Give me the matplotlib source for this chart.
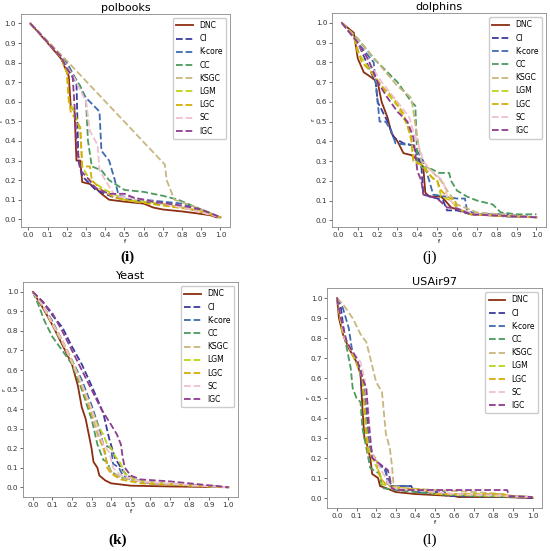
import matplotlib
matplotlib.use("Agg")
import matplotlib.pyplot as plt

methods = ["DNC", "CI", "K-core", "CC", "KSGC", "LGM", "LGC", "SC", "IGC"]
colors = ["#8B2E12", "#3B3B9E", "#3E6BB0", "#4C9A5E", "#C9B67E",
          "#BFD21A", "#D4AE0A", "#F0BFD2", "#8E3C8E"]
ticks = [0.0, 0.1, 0.2, 0.3, 0.4, 0.5, 0.6, 0.7, 0.8, 0.9, 1.0]

# polbooks
polbooks_f = {
    "DNC": [0.01, 0.1, 0.17, 0.21, 0.22, 0.24, 0.25, 0.27, 0.28, 0.32, 0.35, 0.38, 0.42, 0.5, 0.6, 0.65, 0.7, 0.8, 0.88, 0.95, 0.98, 1.0],
    "CI": [0.01, 0.17, 0.22, 0.25, 0.26, 0.28, 0.35, 0.45, 0.6, 0.8, 0.9, 1.0],
    "K-core": [0.01, 0.17, 0.2, 0.3, 0.37, 0.38, 0.42, 0.45, 0.47, 0.6, 0.8, 0.9, 1.0],
    "CC": [0.01, 0.17, 0.19, 0.27, 0.3, 0.31, 0.33, 0.38, 0.42, 0.5, 0.6, 0.7, 0.78, 0.9, 1.0],
    "KSGC": [0.01, 0.18, 0.71, 0.72, 0.76, 0.85, 0.9, 1.0],
    "LGM": [0.01, 0.17, 0.2, 0.21, 0.24, 0.27, 0.28, 0.32, 0.4, 0.5, 0.7, 0.9, 1.0],
    "LGC": [0.01, 0.17, 0.2, 0.21, 0.22, 0.27, 0.28, 0.32, 0.33, 0.38, 0.45, 0.55, 0.7, 0.85, 1.0],
    "SC": [0.01, 0.17, 0.2, 0.24, 0.3, 0.32, 0.36, 0.37, 0.4, 0.45, 0.6, 0.8, 1.0],
    "IGC": [0.01, 0.17, 0.2, 0.23, 0.24, 0.25, 0.27, 0.3, 0.35, 0.42, 0.5, 0.55, 0.65, 0.8, 0.9, 1.0],
}
polbooks_r = {
    "DNC": [1.0, 0.9, 0.82, 0.73, 0.58, 0.55, 0.30, 0.30, 0.19, 0.18, 0.16, 0.13, 0.10, 0.09, 0.08, 0.06, 0.05, 0.04, 0.03, 0.02, 0.01, 0.01],
    "CI": [1.0, 0.83, 0.74, 0.70, 0.30, 0.22, 0.15, 0.11, 0.09, 0.06, 0.04, 0.01],
    "K-core": [1.0, 0.83, 0.80, 0.62, 0.55, 0.35, 0.30, 0.20, 0.12, 0.10, 0.08, 0.05, 0.01],
    "CC": [1.0, 0.83, 0.80, 0.68, 0.60, 0.40, 0.27, 0.25, 0.20, 0.15, 0.14, 0.12, 0.10, 0.05, 0.01],
    "KSGC": [1.0, 0.83, 0.28, 0.20, 0.10, 0.07, 0.05, 0.01],
    "LGM": [1.0, 0.83, 0.75, 0.60, 0.55, 0.45, 0.27, 0.20, 0.15, 0.10, 0.08, 0.04, 0.01],
    "LGC": [1.0, 0.83, 0.75, 0.62, 0.55, 0.47, 0.27, 0.27, 0.20, 0.15, 0.11, 0.09, 0.07, 0.05, 0.01],
    "SC": [1.0, 0.83, 0.78, 0.72, 0.60, 0.45, 0.38, 0.25, 0.20, 0.12, 0.10, 0.06, 0.01],
    "IGC": [1.0, 0.83, 0.77, 0.73, 0.58, 0.40, 0.25, 0.22, 0.16, 0.13, 0.13, 0.11, 0.09, 0.07, 0.05, 0.01],
}

# dolphins
dolphins_f = {
    "DNC": [0.02, 0.08, 0.1, 0.13, 0.16, 0.2, 0.22, 0.25, 0.27, 0.3, 0.33, 0.37, 0.41, 0.43, 0.44, 0.46, 0.52, 0.54, 0.57, 0.67, 0.85, 1.0],
    "CI": [0.02, 0.1, 0.18, 0.19, 0.2, 0.25, 0.28, 0.33, 0.38, 0.42, 0.43, 0.47, 0.53, 0.55, 0.6, 0.67, 0.82, 1.0],
    "K-core": [0.02, 0.1, 0.18, 0.2, 0.21, 0.24, 0.27, 0.29, 0.37, 0.4, 0.43, 0.46, 0.48, 0.6, 0.64, 0.65, 0.7, 0.82, 0.83, 1.0],
    "CC": [0.02, 0.1, 0.18, 0.25, 0.3, 0.37, 0.39, 0.4, 0.42, 0.47, 0.51, 0.56, 0.57, 0.6, 0.65, 0.7, 0.78, 0.82, 0.9, 1.0],
    "KSGC": [0.02, 0.1, 0.2, 0.3, 0.37, 0.38, 0.4, 0.42, 0.47, 0.52, 0.55, 0.6, 0.7, 1.0],
    "LGM": [0.02, 0.08, 0.1, 0.15, 0.2, 0.25, 0.3, 0.35, 0.37, 0.38, 0.43, 0.47, 0.5, 0.52, 0.57, 0.6, 0.67, 1.0],
    "LGC": [0.02, 0.08, 0.12, 0.17, 0.22, 0.28, 0.33, 0.37, 0.38, 0.42, 0.48, 0.5, 0.52, 0.55, 0.59, 0.6, 0.67, 1.0],
    "SC": [0.02, 0.1, 0.17, 0.22, 0.3, 0.36, 0.38, 0.4, 0.43, 0.47, 0.53, 0.55, 0.6, 0.7, 1.0],
    "IGC": [0.02, 0.1, 0.15, 0.2, 0.25, 0.3, 0.35, 0.38, 0.4, 0.42, 0.43, 0.5, 0.55, 0.6, 0.67, 1.0],
}
dolphins_r = {
    "DNC": [1.0, 0.95, 0.82, 0.75, 0.73, 0.70, 0.60, 0.52, 0.44, 0.40, 0.34, 0.33, 0.30, 0.27, 0.14, 0.12, 0.12, 0.10, 0.065, 0.03, 0.02, 0.015],
    "CI": [1.0, 0.90, 0.72, 0.70, 0.60, 0.50, 0.42, 0.39, 0.38, 0.28, 0.13, 0.12, 0.10, 0.05, 0.05, 0.03, 0.03, 0.015],
    "K-core": [1.0, 0.90, 0.80, 0.60, 0.50, 0.50, 0.45, 0.39, 0.38, 0.35, 0.30, 0.20, 0.13, 0.11, 0.11, 0.05, 0.03, 0.03, 0.02, 0.015],
    "CC": [1.0, 0.92, 0.82, 0.75, 0.70, 0.60, 0.58, 0.30, 0.27, 0.26, 0.24, 0.24, 0.20, 0.15, 0.12, 0.10, 0.08, 0.04, 0.03, 0.03],
    "KSGC": [1.0, 0.92, 0.80, 0.68, 0.62, 0.55, 0.42, 0.30, 0.25, 0.20, 0.15, 0.08, 0.04, 0.015],
    "LGM": [1.0, 0.93, 0.85, 0.78, 0.70, 0.64, 0.58, 0.48, 0.40, 0.30, 0.28, 0.22, 0.20, 0.12, 0.10, 0.06, 0.03, 0.015],
    "LGC": [1.0, 0.93, 0.80, 0.75, 0.68, 0.62, 0.54, 0.42, 0.30, 0.28, 0.21, 0.20, 0.15, 0.12, 0.10, 0.06, 0.03, 0.015],
    "SC": [1.0, 0.90, 0.78, 0.70, 0.60, 0.52, 0.45, 0.40, 0.30, 0.25, 0.20, 0.12, 0.06, 0.03, 0.015],
    "IGC": [1.0, 0.90, 0.82, 0.70, 0.62, 0.55, 0.50, 0.42, 0.25, 0.20, 0.13, 0.11, 0.065, 0.06, 0.03, 0.015],
}

# Yeast
yeast_f = {
    "DNC": [0.0, 0.05, 0.1, 0.15, 0.2, 0.23, 0.25, 0.27, 0.29, 0.3, 0.31, 0.33, 0.34, 0.37, 0.4, 0.5, 0.7, 1.0],
    "CI": [0.0, 0.05, 0.1, 0.15, 0.2, 0.25, 0.3, 0.33, 0.36, 0.39, 0.42, 0.45, 0.48, 0.55, 0.7, 1.0],
    "K-core": [0.0, 0.05, 0.1, 0.15, 0.2, 0.25, 0.3, 0.34, 0.36, 0.4, 0.41, 0.44, 0.46, 0.5, 0.6, 0.8, 1.0],
    "CC": [0.0, 0.03, 0.06, 0.1, 0.15, 0.2, 0.25, 0.3, 0.33, 0.36, 0.38, 0.4, 0.45, 0.55, 0.7, 1.0],
    "KSGC": [0.0, 0.05, 0.1, 0.15, 0.2, 0.25, 0.3, 0.33, 0.36, 0.38, 0.4, 0.45, 0.55, 0.7, 1.0],
    "LGM": [0.0, 0.05, 0.1, 0.15, 0.2, 0.25, 0.3, 0.33, 0.36, 0.38, 0.4, 0.42, 0.45, 0.47, 0.52, 0.6, 0.8, 1.0],
    "LGC": [0.0, 0.05, 0.1, 0.15, 0.2, 0.25, 0.3, 0.33, 0.35, 0.37, 0.38, 0.4, 0.45, 0.55, 0.8, 1.0],
    "SC": [0.0, 0.05, 0.1, 0.15, 0.2, 0.25, 0.3, 0.33, 0.36, 0.39, 0.41, 0.45, 0.55, 0.8, 1.0],
    "IGC": [0.0, 0.05, 0.1, 0.15, 0.2, 0.25, 0.3, 0.35, 0.4, 0.43, 0.45, 0.46, 0.47, 0.5, 0.55, 0.7, 0.9, 1.0],
}
yeast_r = {
    "DNC": [1.0, 0.92, 0.83, 0.73, 0.63, 0.52, 0.41, 0.35, 0.25, 0.20, 0.13, 0.10, 0.06, 0.035, 0.02, 0.008, 0.004, 0.0],
    "CI": [1.0, 0.95, 0.88, 0.82, 0.72, 0.63, 0.52, 0.45, 0.38, 0.25, 0.15, 0.10, 0.06, 0.03, 0.015, 0.0],
    "K-core": [1.0, 0.93, 0.85, 0.75, 0.65, 0.55, 0.42, 0.30, 0.22, 0.20, 0.12, 0.10, 0.06, 0.04, 0.02, 0.01, 0.0],
    "CC": [1.0, 0.93, 0.85, 0.77, 0.70, 0.63, 0.50, 0.35, 0.22, 0.14, 0.13, 0.08, 0.05, 0.03, 0.015, 0.0],
    "KSGC": [1.0, 0.93, 0.83, 0.74, 0.64, 0.52, 0.38, 0.27, 0.20, 0.12, 0.08, 0.05, 0.03, 0.015, 0.0],
    "LGM": [1.0, 0.93, 0.84, 0.75, 0.65, 0.53, 0.40, 0.32, 0.27, 0.22, 0.20, 0.16, 0.12, 0.07, 0.04, 0.025, 0.01, 0.0],
    "LGC": [1.0, 0.93, 0.84, 0.75, 0.64, 0.52, 0.38, 0.30, 0.23, 0.18, 0.10, 0.07, 0.04, 0.02, 0.008, 0.0],
    "SC": [1.0, 0.93, 0.84, 0.75, 0.64, 0.53, 0.40, 0.30, 0.22, 0.18, 0.10, 0.06, 0.03, 0.01, 0.0],
    "IGC": [1.0, 0.95, 0.89, 0.80, 0.70, 0.60, 0.50, 0.40, 0.32, 0.27, 0.22, 0.15, 0.10, 0.06, 0.04, 0.03, 0.01, 0.0],
}

# USAir97
usair_f = {
    "DNC": [0.0, 0.01, 0.03, 0.06, 0.1, 0.12, 0.13, 0.14, 0.15, 0.17, 0.18, 0.21, 0.22, 0.25, 0.3, 0.4, 0.5, 0.6, 0.62, 0.85, 1.0],
    "CI": [0.0, 0.02, 0.04, 0.08, 0.12, 0.13, 0.15, 0.16, 0.18, 0.2, 0.25, 0.26, 0.38, 0.39, 0.55, 0.56, 0.9, 1.0],
    "K-core": [0.0, 0.03, 0.06, 0.08, 0.12, 0.14, 0.15, 0.17, 0.2, 0.24, 0.26, 0.28, 0.37, 0.4, 0.6, 0.87, 1.0],
    "CC": [0.0, 0.02, 0.05, 0.07, 0.08, 0.1, 0.12, 0.13, 0.15, 0.17, 0.22, 0.23, 0.3, 0.5, 0.7, 1.0],
    "KSGC": [0.0, 0.03, 0.08, 0.12, 0.15, 0.17, 0.2, 0.23, 0.25, 0.27, 0.28, 0.29, 0.35, 0.5, 0.7, 0.85, 0.9, 1.0],
    "LGM": [0.0, 0.03, 0.07, 0.1, 0.13, 0.14, 0.15, 0.16, 0.18, 0.22, 0.23, 0.3, 0.45, 0.5, 0.8, 1.0],
    "LGC": [0.0, 0.03, 0.07, 0.1, 0.13, 0.14, 0.15, 0.16, 0.2, 0.22, 0.25, 0.3, 0.45, 0.5, 0.83, 0.9, 1.0],
    "SC": [0.0, 0.04, 0.08, 0.12, 0.14, 0.16, 0.17, 0.18, 0.22, 0.25, 0.27, 0.4, 0.6, 1.0],
    "IGC": [0.0, 0.02, 0.05, 0.1, 0.13, 0.15, 0.16, 0.17, 0.18, 0.22, 0.26, 0.27, 0.28, 0.3, 0.87, 0.88, 1.0],
}
usair_r = {
    "DNC": [1.0, 0.90, 0.82, 0.75, 0.68, 0.62, 0.45, 0.30, 0.28, 0.20, 0.12, 0.10, 0.06, 0.05, 0.03, 0.02, 0.015, 0.01, 0.005, 0.005, 0.0],
    "CI": [1.0, 0.95, 0.80, 0.72, 0.63, 0.50, 0.45, 0.30, 0.22, 0.18, 0.14, 0.06, 0.06, 0.03, 0.03, 0.01, 0.005, 0.0],
    "K-core": [1.0, 0.95, 0.85, 0.72, 0.65, 0.55, 0.40, 0.25, 0.18, 0.15, 0.10, 0.06, 0.06, 0.03, 0.02, 0.01, 0.005],
    "CC": [1.0, 0.88, 0.75, 0.65, 0.55, 0.50, 0.48, 0.35, 0.25, 0.15, 0.12, 0.05, 0.04, 0.02, 0.01, 0.005],
    "KSGC": [1.0, 0.97, 0.90, 0.82, 0.78, 0.70, 0.58, 0.53, 0.32, 0.25, 0.17, 0.06, 0.05, 0.04, 0.03, 0.02, 0.01, 0.005],
    "LGM": [1.0, 0.82, 0.74, 0.67, 0.60, 0.45, 0.35, 0.25, 0.20, 0.12, 0.07, 0.05, 0.04, 0.02, 0.01, 0.005],
    "LGC": [1.0, 0.82, 0.74, 0.68, 0.60, 0.48, 0.30, 0.22, 0.20, 0.10, 0.07, 0.05, 0.04, 0.02, 0.02, 0.01, 0.005],
    "SC": [1.0, 0.80, 0.73, 0.68, 0.60, 0.45, 0.30, 0.22, 0.15, 0.10, 0.05, 0.04, 0.02, 0.005],
    "IGC": [1.0, 0.90, 0.78, 0.70, 0.60, 0.55, 0.40, 0.30, 0.20, 0.17, 0.14, 0.10, 0.05, 0.04, 0.04, 0.01, 0.005],
}

panels = [
    ("polbooks", polbooks_f, polbooks_r, [0.038, 0.588, 0.380, 0.387], "(i)", (0.231, 0.534), "bold"),
    ("dolphins", dolphins_f, dolphins_r, [0.604, 0.588, 0.389, 0.388], "(j)", (0.782, 0.534), "normal"),
    ("Yeast", yeast_f, yeast_r, [0.042, 0.098, 0.391, 0.390], "(k)", (0.213, 0.020), "bold"),
    ("USAir97", usair_f, usair_r, [0.595, 0.078, 0.391, 0.399], "(l)", (0.782, 0.020), "normal"),
]

fig = plt.figure(figsize=(5.5, 5.51), dpi=100)

for title, fdata, rdata, pos, lab, lab_xy, weight in panels:
    ax = fig.add_axes(pos)
    for m, c in zip(methods, colors):
        ls = "-" if m == "DNC" else "--"
        ax.plot(fdata[m], rdata[m], ls, color=c, lw=1.3, label=m)
    ax.set_xticks(ticks)
    ax.set_yticks(ticks)
    ax.tick_params(labelsize=5.2, length=2, width=0.5, pad=1.5, colors="#333333")
    ax.set_title(title, fontsize=8, pad=2)
    ax.set_xlabel("f", fontsize=4.5, labelpad=0.5)
    ax.set_ylabel("r", fontsize=4.5, labelpad=0.5)
    for sp in ax.spines.values():
        sp.set_color("#888888")
        sp.set_linewidth(0.6)
    ax.legend(loc="upper right", fontsize=5.5, handlelength=2.2, labelspacing=0.55,
              borderpad=0.45, frameon=True, framealpha=1, edgecolor="#cccccc")
    fig.text(lab_xy[0], lab_xy[1], lab, fontsize=11, family="Liberation Serif",
             fontweight=weight, ha="center", va="center")

fig.savefig("out.png", dpi=100)
